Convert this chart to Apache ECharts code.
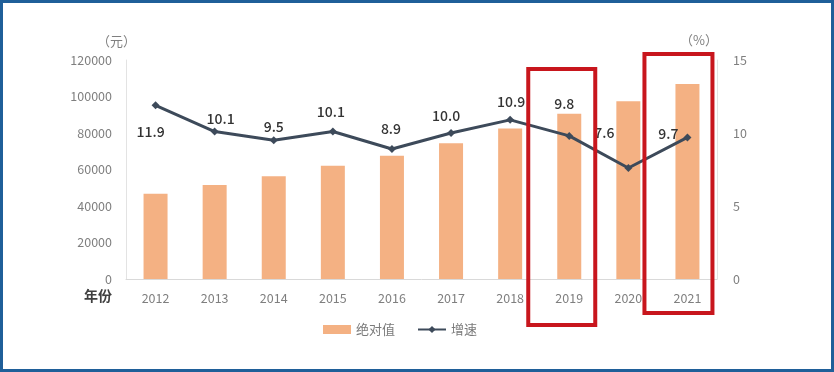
<!DOCTYPE html>
<html><head><meta charset="utf-8">
<script src="https://cdn.jsdelivr.net/npm/echarts@6/dist/echarts.min.js"></script>
<style>
html,body{margin:0;padding:0;background:#fff;}
#wrap{position:absolute;left:0;top:0;width:834px;height:372px;box-sizing:border-box;border:3px solid #1f5f99;}
#c{position:absolute;left:0;top:0;width:834px;height:372px;}
</style></head>
<body><div id="c"></div><div id="wrap"></div>
<script>
const years = ['2012','2013','2014','2015','2016','2017','2018','2019','2020','2021'];
const absValues = [46769, 51483, 56360, 62029, 67569, 74318, 82413, 90501, 97379, 106837];
const growth = [11.9, 10.1, 9.5, 10.1, 8.9, 10.0, 10.9, 9.8, 7.6, 9.7];
const leftTicks = [0, 20000, 40000, 60000, 80000, 100000, 120000];
const rightTicks = [0, 5, 10, 15];
const highlightYears = ['2019', '2021'];

const labelCfg = [
  {position:'bottom', offset:[-5,10]},
  {position:'top', offset:[6,3]},
  {position:'top', offset:[0,2]},
  {position:'top', offset:[-2,-4]},
  {position:'top', offset:[-1,-4]},
  {position:'top', offset:[-5,-1]},
  {position:'top', offset:[1,-2]},
  {position:'top', offset:[-5,-16]},
  {position:'top', offset:[-24,-19]},
  {position:'left', offset:[0,-4]}
];

const chart = echarts.init(document.getElementById('c'));
const FONT = '"Noto Sans CJK SC", "Noto Sans", sans-serif';
const option = {
  animation:false,
  textStyle:{fontFamily:FONT},
  grid:{left:126, right:117, top:60, bottom:93},
  legend:{
    left:318, top:318, itemGap:22, itemWidth:28, itemHeight:9,
    textStyle:{color:'#7a7a7a', fontSize:13, fontFamily:FONT},
    data:[{name:'绝对值', icon:'rect'}, {name:'增速'}]
  },
  xAxis:{
    type:'category', data:years,
    axisLine:{lineStyle:{color:'#d9d9d9'}},
    axisTick:{show:false},
    axisLabel:{color:'#7f7f7f', fontSize:12.5, margin:13, fontFamily:FONT}
  },
  yAxis:[
    {type:'value', min:leftTicks[0], max:leftTicks[leftTicks.length-1], interval:leftTicks[1]-leftTicks[0],
     axisLine:{show:true, lineStyle:{color:'#e3e3e3'}}, axisTick:{show:false},
     splitLine:{show:false},
     axisLabel:{color:'#7f7f7f', fontSize:12.5, margin:14, fontFamily:FONT, formatter:v=>String(v)}},
    {type:'value', min:rightTicks[0], max:rightTicks[rightTicks.length-1], interval:rightTicks[1]-rightTicks[0],
     axisLine:{show:true, lineStyle:{color:'#e3e3e3'}}, axisTick:{show:false},
     splitLine:{show:false},
     axisLabel:{color:'#7f7f7f', fontSize:12.5, margin:16, fontFamily:FONT}}
  ],
  series:[
    {name:'绝对值', type:'bar', data:absValues, barWidth:24, itemStyle:{color:'#F4B183'}},
    {name:'增速', type:'line', yAxisIndex:1, symbol:'diamond', symbolSize:8,
     lineStyle:{color:'#3d4a5a', width:3}, itemStyle:{color:'#3d4a5a'},
     data: growth.map((v,i)=>({value:v, label:{show:true, position:labelCfg[i].position, offset:labelCfg[i].offset}})),
     label:{show:true, color:'#333333', fontSize:14, fontWeight:500, fontFamily:FONT, formatter:p=>p.value.toFixed(1)}}
  ]
};
chart.setOption(option);

const boxes = [];
const boxSpec = {'2019':{dl:-41, dr:26, top:69, bottom:325}, '2021':{dl:-43, dr:25, top:54, bottom:313}};
highlightYears.forEach(y=>{
  const cx = chart.convertToPixel({xAxisIndex:0}, y);
  const s = boxSpec[y];
  boxes.push({type:'rect', shape:{x:cx+s.dl, y:s.top, width:s.dr-s.dl, height:s.bottom-s.top},
    style:{fill:'none', stroke:'#c8161d', lineWidth:4}, z:100});
});
boxes.push({type:'text', left:97, top:35, style:{text:'（元）', fill:'#7f7f7f', font:'13px '+FONT}});
boxes.push({type:'text', left:680, top:34, style:{text:'（%）', fill:'#7f7f7f', font:'13px '+FONT}});
boxes.push({type:'text', left:84, top:289, style:{text:'年份', fill:'#404040', font:'bold 14px '+FONT}});
chart.setOption({graphic:boxes});
</script></body></html>
